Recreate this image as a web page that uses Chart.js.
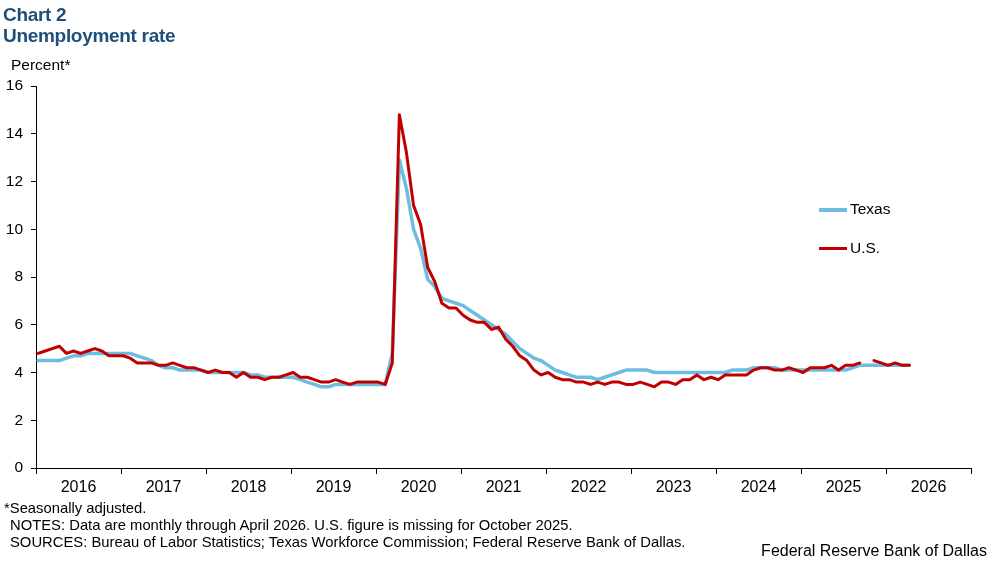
<!DOCTYPE html>
<html>
<head>
<meta charset="utf-8">
<script src="https://cdn.jsdelivr.net/npm/chart.js@4/dist/chart.umd.min.js"></script>
<style>
  body { margin: 0; background: #fff; font-family: "Liberation Sans", Arial, sans-serif; }
  #wrap { position: relative; width: 997px; height: 564px; overflow: hidden; }
  #chart { position: absolute; left: 0; top: 0; }
  .title { position: absolute; left: 3px; color: #1F4E79; font-weight: bold; font-size: 19px; letter-spacing: -0.3px; white-space: nowrap; }
  .txt { position: absolute; color: #000; white-space: nowrap; }
  .legend-line { position: absolute; height: 3px; width: 28px; }
</style>
</head>
<body>
<div id="wrap">
  <canvas id="chart" width="997" height="564"></canvas>
  <div class="title" style="top:4px;">Chart 2</div>
  <div class="title" style="top:25px;">Unemployment rate</div>
  <div class="txt" style="left:11px; top:56px; font-size:15.5px;">Percent*</div>

  <div class="legend-line" style="left:819px; top:208px; background:#6CBDE0; height:3.5px;"></div>
  <div class="txt" style="left:850px; top:200px; font-size:15.5px;">Texas</div>
  <div class="legend-line" style="left:819px; top:247px; background:#C00000;"></div>
  <div class="txt" style="left:850px; top:239px; font-size:15.5px;">U.S.</div>

  <div class="txt" style="left:4px; top:500px; font-size:14.8px;">*Seasonally adjusted.</div>
  <div class="txt" style="left:10px; top:517px; font-size:14.8px;">NOTES: Data are monthly through April 2026. U.S. figure is missing for October 2025.</div>
  <div class="txt" style="left:10px; top:534px; font-size:14.8px;">SOURCES: Bureau of Labor Statistics; Texas Workforce Commission; Federal Reserve Bank of Dallas.</div>
  <div class="txt" style="right:10px; top:542px; font-size:16px;">Federal Reserve Bank of Dallas</div>
</div>

<script>
// year tick labels (one label centred on each year)
const years = ['2016', '2017', '2018', '2019', '2020', '2021', '2022', '2023', '2024', '2025', '2026'];

// monthly unemployment rate, Jan 2016 - Apr 2026 (percent, SA)
const texas = [
  4.5, 4.5, 4.5, 4.5, 4.6, 4.7, 4.7, 4.8, 4.8, 4.8, 4.8, 4.8,   // 2016
  4.8, 4.8, 4.7, 4.6, 4.5, 4.3, 4.2, 4.2, 4.1, 4.1, 4.1, 4.1,   // 2017
  4.0, 4.0, 4.0, 4.0, 4.0, 4.0, 3.9, 3.9, 3.8, 3.8, 3.8, 3.8,   // 2018
  3.8, 3.7, 3.6, 3.5, 3.4, 3.4, 3.5, 3.5, 3.5, 3.5, 3.5, 3.5,   // 2019
  3.5, 3.5, 4.8, 12.9, 11.7, 10.0, 9.2, 7.9, 7.6, 7.1, 7.0, 6.9, // 2020
  6.8, 6.6, 6.4, 6.2, 6.0, 5.8, 5.6, 5.3, 5.0, 4.8, 4.6, 4.5,   // 2021
  4.3, 4.1, 4.0, 3.9, 3.8, 3.8, 3.8, 3.7, 3.8, 3.9, 4.0, 4.1,   // 2022
  4.1, 4.1, 4.1, 4.0, 4.0, 4.0, 4.0, 4.0, 4.0, 4.0, 4.0, 4.0,   // 2023
  4.0, 4.0, 4.1, 4.1, 4.1, 4.2, 4.2, 4.2, 4.2, 4.1, 4.1, 4.1,   // 2024
  4.1, 4.1, 4.1, 4.1, 4.1, 4.1, 4.1, 4.2, 4.3, 4.3, 4.3, 4.3,   // 2025
  4.3, 4.3, 4.3, 4.3                                            // 2026
];

const us = [
  4.8, 4.9, 5.0, 5.1, 4.8, 4.9, 4.8, 4.9, 5.0, 4.9, 4.7, 4.7,   // 2016
  4.7, 4.6, 4.4, 4.4, 4.4, 4.3, 4.3, 4.4, 4.3, 4.2, 4.2, 4.1,   // 2017
  4.0, 4.1, 4.0, 4.0, 3.8, 4.0, 3.8, 3.8, 3.7, 3.8, 3.8, 3.9,   // 2018
  4.0, 3.8, 3.8, 3.7, 3.6, 3.6, 3.7, 3.6, 3.5, 3.6, 3.6, 3.6,   // 2019
  3.6, 3.5, 4.4, 14.8, 13.2, 11.0, 10.2, 8.4, 7.8, 6.9, 6.7, 6.7, // 2020
  6.4, 6.2, 6.1, 6.1, 5.8, 5.9, 5.4, 5.1, 4.7, 4.5, 4.1, 3.9,   // 2021
  4.0, 3.8, 3.7, 3.7, 3.6, 3.6, 3.5, 3.6, 3.5, 3.6, 3.6, 3.5,   // 2022
  3.5, 3.6, 3.5, 3.4, 3.6, 3.6, 3.5, 3.7, 3.7, 3.9, 3.7, 3.8,   // 2023
  3.7, 3.9, 3.9, 3.9, 3.9, 4.1, 4.2, 4.2, 4.1, 4.1, 4.2, 4.1,   // 2024
  4.0, 4.2, 4.2, 4.2, 4.3, 4.1, 4.3, 4.3, 4.4, null, 4.5, 4.4,  // 2025 (Oct missing)
  4.3, 4.4, 4.3, 4.3                                            // 2026
];

const yTicks = [0, 2, 4, 6, 8, 10, 12, 14, 16];

const FONT = '"Liberation Sans", Arial, sans-serif';

// x = months since Jan 2016 (plotted a little into each month, like the source)
const toPoints = arr => arr.map((v, i) => ({ x: i + 0.3, y: v }));

new Chart(document.getElementById('chart').getContext('2d'), {
  type: 'line',
  data: {
    datasets: [
      {
        label: 'Texas',
        data: toPoints(texas),
        borderColor: '#6CBDE0',
        borderWidth: 3.5,
        borderJoinStyle: 'round',
        borderCapStyle: 'round',
        pointRadius: 0,
        tension: 0,
        order: 2
      },
      {
        label: 'U.S.',
        data: toPoints(us),
        borderColor: '#C00000',
        borderWidth: 3,
        borderJoinStyle: 'round',
        borderCapStyle: 'round',
        pointRadius: 0,
        tension: 0,
        spanGaps: false,
        order: 1
      }
    ]
  },
  options: {
    responsive: false,
    animation: false,
    layout: { padding: { top: 86, right: 26, left: 0, bottom: 0 } },
    plugins: {
      legend: { display: false },
      tooltip: { enabled: false }
    },
    scales: {
      x: {
        type: 'linear',
        min: 0,
        max: years.length * 12,
        afterFit: s => { s.height = 96; },
        afterBuildTicks: s => {
          const t = [];
          for (let v = 0; v <= years.length * 12; v += 6) t.push({ value: v });
          s.ticks = t;
        },
        border: { display: true, color: '#000', width: 1 },
        grid: {
          drawOnChartArea: false,
          drawTicks: true,
          tickLength: 6,
          color: c => (c.tick && c.tick.value % 12 === 0) ? '#000' : 'rgba(0,0,0,0)'
        },
        ticks: {
          autoSkip: false,
          maxRotation: 0,
          padding: 4,
          color: '#000',
          font: { family: FONT, size: 16 },
          callback: v => (v % 12 === 6) ? years[(v - 6) / 12] : ''
        }
      },
      y: {
        min: 0,
        max: 16,
        afterFit: s => { s.width = 36; },
        afterBuildTicks: s => { s.ticks = yTicks.map(v => ({ value: v })); },
        border: { display: true, color: '#000', width: 1 },
        grid: {
          drawOnChartArea: false,
          drawTicks: true,
          tickLength: 5,
          color: '#000'
        },
        ticks: {
          padding: 8,
          color: '#000',
          font: { family: FONT, size: 15.5 }
        }
      }
    }
  }
});
</script>
</body>
</html>
